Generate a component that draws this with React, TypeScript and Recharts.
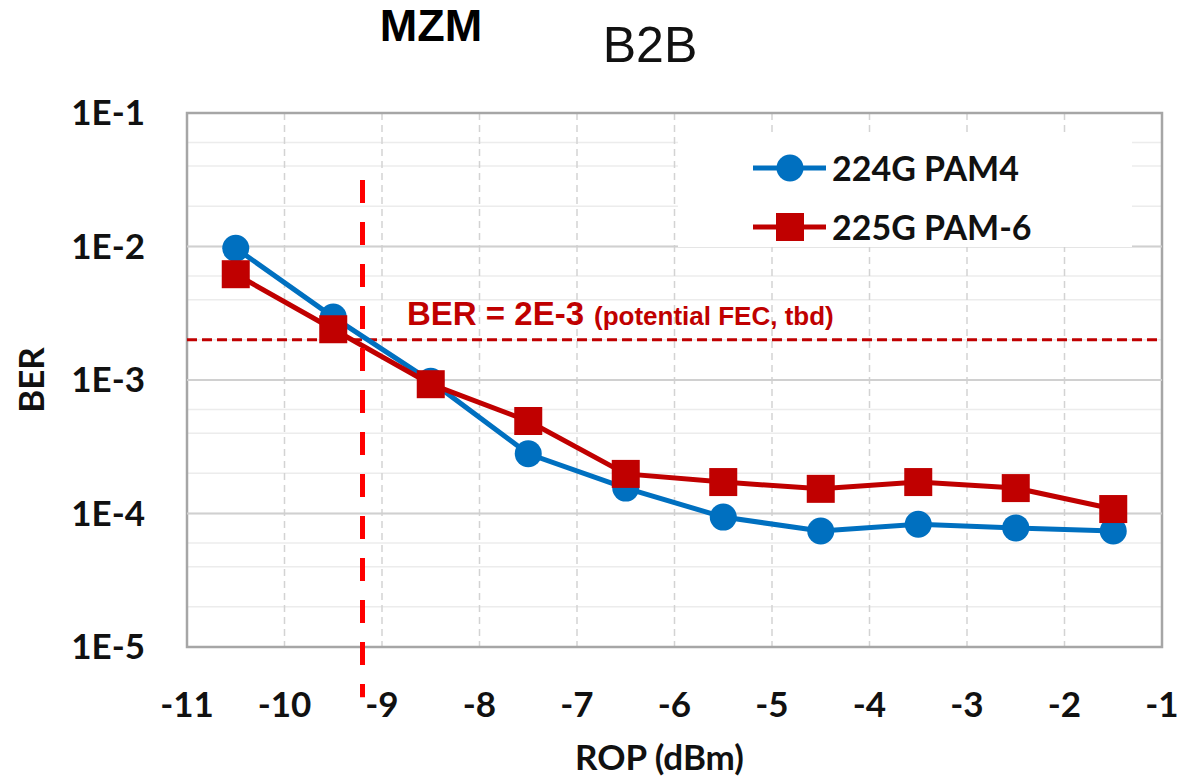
import React from 'react';
import {
    LineChart,
    Line,
    XAxis,
    YAxis,
    CartesianGrid,
    ReferenceLine,
    ReferenceArea,
    Legend,
} from 'recharts';

// ROP in dBm, BER per modulation format
const rop = [-10.5, -9.5, -8.5, -7.5, -6.5, -5.5, -4.5, -3.5, -2.5, -1.5];
const pam4Ber = [9.7e-3, 2.96e-3, 9.8e-4, 2.8e-4, 1.55e-4, 9.4e-5, 7.4e-5, 8.3e-5, 7.8e-5, 7.4e-5];
const pam6Ber = [6.2e-3, 2.4e-3, 9.3e-4, 4.93e-4, 1.98e-4, 1.72e-4, 1.53e-4, 1.72e-4, 1.55e-4, 1.08e-4];

const xTicks = [-11, -10, -9, -8, -7, -6, -5, -4, -3, -2, -1];
const yTicks = [1e-5, 1e-4, 1e-3, 1e-2, 1e-1];
const fecLimit = 2e-3;
const mzmRop = -9.2;

const BLUE = '#0070c0';
const RED = '#c00000';

const SERIES = [
    { key: 'pam4', name: '224G PAM4', color: BLUE, shape: 'circle' },
    { key: 'pam6', name: '225G PAM-6', color: RED, shape: 'square' },
];

const chartData = rop.map((x, i) => ({ rop: x, pam4: pam4Ber[i], pam6: pam6Ber[i] }));

// light minor grid at 2..9 within each decade
const minorLines = yTicks
    .slice(0, -1)
    .flatMap(d => [1, 2, 3, 4, 5, 6, 7, 8, 9].map(m => d * m))
    .concat([1e-1]);

const fmtExp = (v: number) => `1E${Math.round(Math.log10(v))}`;

const CircleDot = (props: any) => (
    <circle key={`c-${props.index}`} cx={props.cx} cy={props.cy} r={13.5} fill={BLUE} />
);
const SquareDot = (props: any) => (
    <rect key={`s-${props.index}`} x={props.cx - 14} y={props.cy - 14} width={28} height={28} fill={RED} />
);

const renderLegend = () => (
    <div style={{ background: '#fff', width: 454, height: 114, position: 'relative', fontFamily: 'Lato', fontWeight: 700, fontSize: 34, color: '#111' }}>
        {SERIES.map((s, i) => (
            <div key={s.key} style={{ position: 'absolute', left: 75, top: 15 + 59 * i, height: 40, display: 'flex', alignItems: 'center' }}>
                <svg width={73} height={40}>
                    <line x1={0} y1={20} x2={73} y2={20} stroke={s.color} strokeWidth={5} />
                    {s.shape === 'circle'
                        ? <circle cx={37} cy={20} r={13.5} fill={s.color} />
                        : <rect x={23} y={6} width={28} height={28} fill={s.color} />}
                </svg>
                <span style={{ marginLeft: 6, lineHeight: '40px' }}>{s.name}</span>
            </div>
        ))}
    </div>
);

const renderYLabel = (props: any) => {
    const vb = props.viewBox || { x: 0, y: 113, width: 150, height: 534 };
    const cy = vb.y + vb.height / 2;
    return (
        <text x={30} y={cy} transform={`rotate(-90, 30, ${cy})`} textAnchor="middle" dominantBaseline="central"
            fontFamily="Lato" fontWeight={700} fontSize={35} fill="#111">
            BER
        </text>
    );
};

const renderFecLabel = (props: any) => {
    const vb = props.viewBox || { x: 187, y: 340 };
    return (
        <text x={vb.x + 220} y={vb.y - 15} fill={RED} fontFamily="Liberation Sans" fontWeight={700}>
            <tspan fontSize={33}>BER = 2E-3</tspan>
            <tspan fontSize={26} dx={10}>(potential FEC, tbd)</tspan>
        </text>
    );
};

export default function App() {
    return (
        <div style={{ position: 'absolute', left: 0, top: 0, width: 1179, height: 781, background: '#fff' }}>
            <LineChart width={1179} height={781} data={chartData} margin={{ top: 113, right: 17, bottom: 0, left: 37 }}
                style={{ fontFamily: 'Lato' }}>
                <CartesianGrid horizontal vertical={false} horizontalValues={minorLines} stroke="#ececec" strokeWidth={1.5} />
                <CartesianGrid horizontal={false} vertical verticalValues={xTicks} stroke="#d3d3d3" strokeWidth={1.5} strokeDasharray="7 5" />
                <XAxis type="number" dataKey="rop" domain={[-11, -1]} ticks={xTicks} interval={0}
                    axisLine={false} tickLine={false} tickSize={0} tickMargin={45} height={134}
                    tick={{ fill: '#111', fontSize: 35, fontWeight: 700, fontFamily: 'Lato' }}
                    label={{ value: 'ROP (dBm)', position: 'insideBottom', offset: 11, dx: -15, fill: '#111', fontSize: 35, fontWeight: 700, fontFamily: 'Lato' }} />
                <YAxis type="number" scale="log" domain={[1e-5, 1e-1]} ticks={yTicks} allowDataOverflow
                    axisLine={false} tickLine={false} tickSize={0} tickMargin={42} width={150}
                    tickFormatter={fmtExp}
                    tick={{ fill: '#111', fontSize: 35, fontWeight: 700, fontFamily: 'Lato' }}
                    label={renderYLabel} />
                {yTicks.slice(1, -1).map(v => (
                    <ReferenceLine key={v} y={v} stroke="#d0d0d0" strokeWidth={2} />
                ))}
                <ReferenceArea x1={-11} x2={-1} y1={1e-5} y2={1e-1} fill="none" stroke="#a6a6a6" strokeWidth={2.5} />
                <ReferenceLine y={fecLimit} stroke={RED} strokeWidth={3} strokeDasharray="10 5" label={renderFecLabel} />
                <Legend layout="horizontal" verticalAlign="middle" align="center" content={renderLegend}
                    wrapperStyle={{ left: 678, top: 133, width: 454, height: 114 }} />
                <Line type="linear" dataKey="pam4" name="224G PAM4" stroke={BLUE} strokeWidth={5}
                    dot={CircleDot} activeDot={false} isAnimationActive={false} />
                <Line type="linear" dataKey="pam6" name="225G PAM-6" stroke={RED} strokeWidth={5}
                    dot={SquareDot} activeDot={false} isAnimationActive={false} />
                <ReferenceLine ifOverflow="visible" stroke="#ff0000" strokeWidth={5} strokeDasharray="23 19"
                    segment={[{ x: mzmRop, y: 0.0315 }, { x: mzmRop, y: 4.2e-6 }]} />
            </LineChart>
            <div style={{ position: 'absolute', left: 331, top: 3, width: 200, textAlign: 'center', fontFamily: 'Liberation Sans', fontWeight: 700, fontSize: 45, lineHeight: 1, color: '#000' }}>
                MZM
            </div>
            <div style={{ position: 'absolute', left: 550, top: 20, width: 200, textAlign: 'center', fontFamily: 'Liberation Sans', fontSize: 50, lineHeight: 1, color: '#111' }}>
                B2B
            </div>
        </div>
    );
}
